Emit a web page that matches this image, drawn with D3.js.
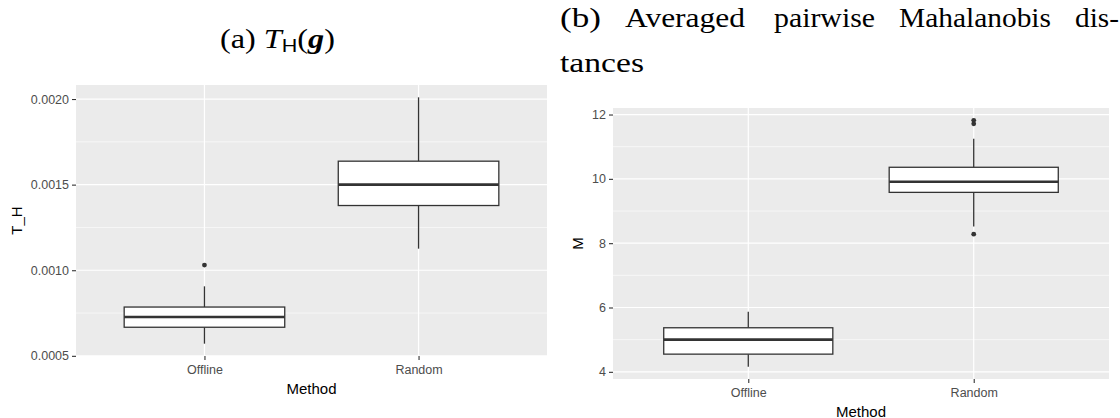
<!DOCTYPE html>
<html>
<head>
<meta charset="utf-8">
<script src="https://cdn.jsdelivr.net/npm/d3@7"></script>
<style>
  body { margin: 0; background: #fff; }
  svg { display: block; }
</style>
</head>
<body>
<div id="chart"></div>
<script>
var methods = ["Offline", "Random"];

// (a) T_H : five number summaries
var thLower  = [0.000571, 0.001126];
var thQ1     = [0.000667, 0.001378];
var thMedian = [0.000727, 0.001500];
var thQ3     = [0.000785, 0.001637];
var thUpper  = [0.000906, 0.002010];
var thOutliers = [[0.00103], []];
var thTicks = [0.0005, 0.0010, 0.0015, 0.0020];
var thMinor = [0.00075, 0.00125, 0.00175];

// (b) M : averaged pairwise Mahalanobis distances
var mLower  = [4.16, 8.52];
var mQ1     = [4.55, 9.58];
var mMedian = [5.00, 9.91];
var mQ3     = [5.37, 10.36];
var mUpper  = [5.87, 11.25];
var mOutliers = [[], [11.82, 11.71, 8.28]];
var mTicks = [4, 6, 8, 10, 12];
var mMinor = [5, 7, 9, 11];

var W = 1120, H = 418;
var svg = d3.select("#chart").append("svg")
    .attr("width", W)
    .attr("height", H);

var sans = "'Liberation Sans', Arial, sans-serif";
var serif = "'Liberation Serif', 'Times New Roman', serif";

function drawPanel(p) {
    var g = svg.append("g");

    var stats = methods.map(function(m, i) {
        return {method: m, lo: p.lower[i], q1: p.q1[i], med: p.median[i],
                q3: p.q3[i], hi: p.upper[i], out: p.outliers[i]};
    });

    var all = [];
    stats.forEach(function(s) { all = all.concat([s.lo, s.hi], s.out); });
    var ext = d3.extent(all), pad = (ext[1] - ext[0]) * 0.05;

    var x = d3.scalePoint().domain(methods).range([p.left, p.right]).padding(0.6);
    var y = d3.scaleLinear().domain([ext[0] - pad, ext[1] + pad]).range([p.bottom, p.top]);
    var bw = x.step() * 0.75;

    // panel background + grid
    g.append("rect")
        .attr("x", p.left).attr("y", p.top)
        .attr("width", p.right - p.left).attr("height", p.bottom - p.top)
        .attr("fill", "#ebebeb");

    g.selectAll(".minor").data(p.minor).enter().append("line")
        .attr("x1", p.left).attr("x2", p.right)
        .attr("y1", function(d){ return y(d); }).attr("y2", function(d){ return y(d); })
        .attr("stroke", "#fff").attr("stroke-width", 0.6);

    g.selectAll(".major").data(p.ticks).enter().append("line")
        .attr("x1", p.left).attr("x2", p.right)
        .attr("y1", function(d){ return y(d); }).attr("y2", function(d){ return y(d); })
        .attr("stroke", "#fff").attr("stroke-width", 1.2);

    g.selectAll(".vmajor").data(methods).enter().append("line")
        .attr("x1", function(d){ return x(d); }).attr("x2", function(d){ return x(d); })
        .attr("y1", p.top).attr("y2", p.bottom)
        .attr("stroke", "#fff").attr("stroke-width", 1.2);

    // axes
    var yAxis = g.append("g")
        .attr("transform", "translate(" + p.left + ",0)")
        .call(d3.axisLeft(y).tickValues(p.ticks).tickFormat(p.fmt).tickSize(4).tickPadding(3));
    var xAxis = g.append("g")
        .attr("transform", "translate(0," + p.bottom + ")")
        .call(d3.axisBottom(x).tickSize(4).tickPadding(5));
    [yAxis, xAxis].forEach(function(a) {
        a.select(".domain").remove();
        a.selectAll(".tick line").attr("stroke", "#333").attr("stroke-width", 1.1);
        a.selectAll(".tick text")
            .attr("fill", "#4d4d4d")
            .style("font-family", sans)
            .style("font-size", "12.5px");
    });

    // boxes
    var box = g.selectAll(".box").data(stats).enter().append("g");
    box.append("line")
        .attr("x1", function(d){ return x(d.method); }).attr("x2", function(d){ return x(d.method); })
        .attr("y1", function(d){ return y(d.hi); }).attr("y2", function(d){ return y(d.q3); })
        .attr("stroke", "#333").attr("stroke-width", 1.3);
    box.append("line")
        .attr("x1", function(d){ return x(d.method); }).attr("x2", function(d){ return x(d.method); })
        .attr("y1", function(d){ return y(d.q1); }).attr("y2", function(d){ return y(d.lo); })
        .attr("stroke", "#333").attr("stroke-width", 1.3);
    box.append("rect")
        .attr("x", function(d){ return x(d.method) - bw / 2; })
        .attr("y", function(d){ return y(d.q3); })
        .attr("width", bw)
        .attr("height", function(d){ return y(d.q1) - y(d.q3); })
        .attr("fill", "#fff").attr("stroke", "#333").attr("stroke-width", 1.3);
    box.append("line")
        .attr("x1", function(d){ return x(d.method) - bw / 2; })
        .attr("x2", function(d){ return x(d.method) + bw / 2; })
        .attr("y1", function(d){ return y(d.med); }).attr("y2", function(d){ return y(d.med); })
        .attr("stroke", "#333").attr("stroke-width", 2.6);
    box.selectAll("circle").data(function(d){
            return d.out.map(function(v){ return {method: d.method, v: v}; });
        }).enter().append("circle")
        .attr("cx", function(d){ return x(d.method); })
        .attr("cy", function(d){ return y(d.v); })
        .attr("r", 2.4)
        .attr("fill", "#333");

    // axis titles
    g.append("text")
        .attr("x", (p.left + p.right) / 2).attr("y", p.bottom + 38)
        .attr("text-anchor", "middle")
        .style("font-family", sans).style("font-size", "15px")
        .text("Method");
    g.append("text")
        .attr("transform", "translate(" + p.ytitleX + "," + (p.top + p.bottom) / 2 + ") rotate(-90)")
        .attr("text-anchor", "middle")
        .style("font-family", sans).style("font-size", "15px")
        .text(p.ytitle);
}

drawPanel({
    left: 76, right: 547, top: 85, bottom: 356,
    lower: thLower, q1: thQ1, median: thMedian, q3: thQ3, upper: thUpper, outliers: thOutliers,
    ticks: thTicks, minor: thMinor, fmt: d3.format(".4f"),
    ytitle: "T_H", ytitleX: 22
});

drawPanel({
    left: 613, right: 1109, top: 108, bottom: 379,
    lower: mLower, q1: mQ1, median: mMedian, q3: mQ3, upper: mUpper, outliers: mOutliers,
    ticks: mTicks, minor: mMinor, fmt: d3.format("d"),
    ytitle: "M", ytitleX: 583
});

// sub-captions
var capA = svg.append("text")
    .attr("x", 220).attr("y", 48)
    .attr("textLength", 115).attr("lengthAdjust", "spacingAndGlyphs")
    .style("font-family", serif).style("font-size", "27px");
capA.append("tspan").text("(a) ");
capA.append("tspan").style("font-style", "italic").text("T");
capA.append("tspan").attr("dy", 4).style("font-family", sans).style("font-size", "18px").text("H");
capA.append("tspan").attr("dy", -4).text("(");
capA.append("tspan").style("font-style", "italic").style("font-weight", "bold").text("g");
capA.append("tspan").text(")");

var line1 = [["(b)", 560, 41], ["Averaged", 625, 120], ["pairwise", 774, 101],
             ["Mahalanobis", 899, 152], ["dis-", 1075, 44]];
svg.selectAll(".capB").data(line1).enter().append("text")
    .attr("x", function(d){ return d[1]; }).attr("y", 27)
    .attr("textLength", function(d){ return d[2]; })
    .attr("lengthAdjust", "spacingAndGlyphs")
    .style("font-family", serif).style("font-size", "27px")
    .text(function(d){ return d[0]; });
svg.append("text")
    .attr("x", 560).attr("y", 72)
    .attr("textLength", 84).attr("lengthAdjust", "spacingAndGlyphs")
    .style("font-family", serif).style("font-size", "27px")
    .text("tances");
</script>
</body>
</html>
